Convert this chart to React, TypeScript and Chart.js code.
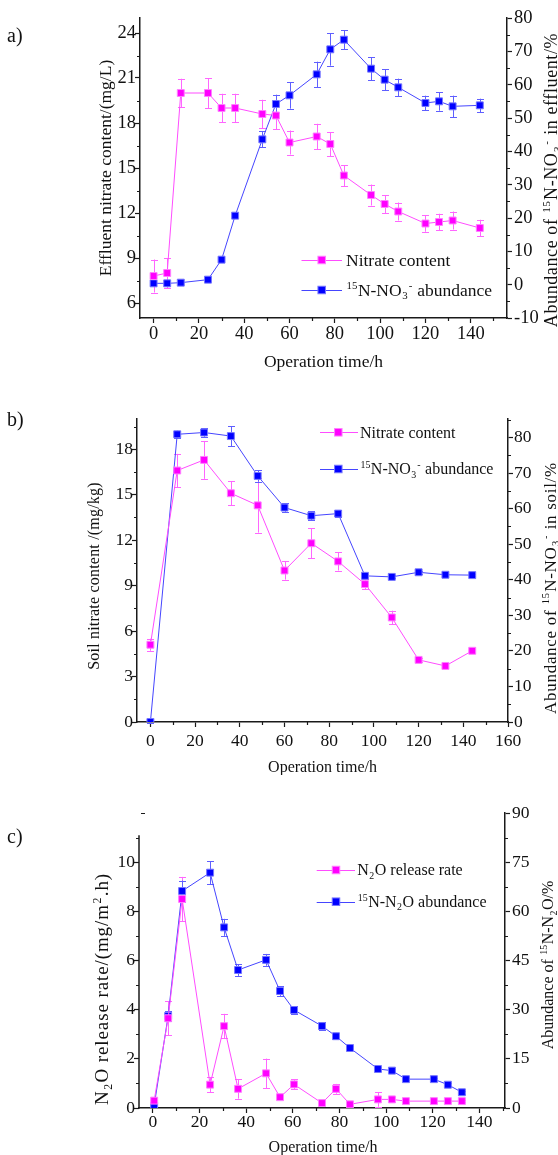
import React, { useEffect, useRef } from 'react';
import { Chart, registerables } from 'chart.js';

Chart.register(...registerables);

const FONT = '"Liberation Serif", "Times New Roman", serif';

// ---------- Panel a: effluent ----------
const timeA = [0, 6, 12, 24, 30, 36, 48, 54, 60, 72, 78, 84, 96, 102, 108, 120, 126, 132, 144];
const nitrateA = [7.8, 8.0, 20.0, 20.0, 19.0, 19.0, 18.6, 18.5, 16.7, 17.1, 16.6, 14.5, 13.2, 12.6, 12.1, 11.3, 11.4, 11.5, 11.0];
const nitrateErrA = [1.1, 1.0, 0.95, 1.0, 0.95, 0.95, 0.95, 0.9, 0.8, 0.85, 0.8, 0.7, 0.7, 0.6, 0.6, 0.55, 0.55, 0.6, 0.55];
const abundA = [0.4, 0.4, 0.6, 1.5, 7.5, 20.7, 43.6, 54.2, 56.8, 63.1, 70.6, 73.5, 64.8, 61.5, 59.2, 54.5, 55.0, 53.5, 53.8];
const abundErrA = [0, 0, 0, 0, 0, 0, 2.4, 2.8, 4.0, 3.8, 4.9, 2.9, 3.4, 3.1, 2.6, 2.2, 2.8, 3.2, 2.0];
const xTicksA = [0, 20, 40, 60, 80, 100, 120, 140];
const yTicksA = [6, 9, 12, 15, 18, 21, 24];
const y1TicksA = [-10, 0, 10, 20, 30, 40, 50, 60, 70, 80];

// ---------- Panel b: soil ----------
const timeB = [0, 12, 24, 36, 48, 60, 72, 84, 96, 108, 120, 132, 144];
const nitrateB = [5.1, 16.6, 17.3, 15.1, 14.3, 10.0, 11.8, 10.6, 9.1, 6.9, 4.1, 3.7, 4.7];
const nitrateErrB = [0.4, 1.1, 1.25, 0.8, 1.8, 0.6, 1.0, 0.6, 0.35, 0.45, 0.15, 0.15, 0.15];
const abundB = [0, 80.9, 81.4, 80.4, 69.2, 60.3, 58.0, 58.6, 41.1, 40.8, 42.1, 41.4, 41.3];
const abundErrB = [0.3, 1.0, 1.2, 2.8, 1.6, 1.2, 1.3, 1.0, 0.4, 0.4, 0.4, 0.3, 0.3];
const xTicksB = [0, 20, 40, 60, 80, 100, 120, 140, 160];
const yTicksB = [0, 3, 6, 9, 12, 15, 18];
const y1TicksB = [0, 10, 20, 30, 40, 50, 60, 70, 80];

// ---------- Panel c: N2O ----------
const timeC = [0.5, 6.5, 12.5, 24.5, 30.5, 36.5, 48.5, 54.5, 60.5, 72.5, 78.5, 84.5, 96.5, 102.5, 108.5, 120.5, 126.5, 132.5];
const n2oC = [0.3, 3.65, 8.5, 0.95, 3.33, 0.78, 1.41, 0.44, 0.96, 0.2, 0.78, 0.15, 0.35, 0.35, 0.28, 0.28, 0.28, 0.28];
const n2oErrC = [0.1, 0.7, 0.9, 0.3, 0.5, 0.4, 0.6, 0.08, 0.2, 0.05, 0.2, 0.05, 0.3, 0.1, 0.05, 0.05, 0.05, 0.05];
const abundC = [0.7, 28.1, 66.2, 71.8, 55.1, 42.1, 45.2, 35.7, 29.9, 25.0, 21.9, 18.3, 11.9, 11.4, 8.8, 8.8, 7.1, 4.8];
const abundErrC = [0.3, 1.5, 3.2, 3.5, 2.6, 1.8, 1.8, 1.5, 1.2, 1.2, 1.0, 0.5, 0.5, 0.5, 0.4, 0.4, 0.4, 0.4];
const xTicksC = [0, 20, 40, 60, 80, 100, 120, 140];
const yTicksC = [0, 2, 4, 6, 8, 10];
const y1TicksC = [0, 15, 30, 45, 60, 75, 90];

// ---------- styles ----------
const MAG = '#ff00ff';
const MAG_LINE = '#ff4cff';
const MAG_ERR = '#ff66ff';
const MAG_EDGE = '#ff7fff';
const BLUE = '#0000ff';
const BLUE_LINE = '#4545ff';
const BLUE_ERR = '#5f5fff';
const BLUE_EDGE = '#7575ff';
const AXIS = '#1a1a1a';
const TEXT = '#111111';

type Seg = { t: string; s?: 'sup' | 'sub' };
type Title = { segs: Seg[]; x: number; y: number; size: number; spacing: number };

function range(a: number, b: number, step: number) {
  const out: number[] = [];
  for (let v = a; v <= b + 1e-9; v += step) out.push(Math.round(v * 1000) / 1000);
  return out;
}

function drawRich(ctx: CanvasRenderingContext2D, segs: Seg[], x: number, y: number, size: number, rotate: boolean, align: 'center' | 'left', spacing = 0) {
  ctx.save();
  ctx.translate(x, y);
  if (rotate) ctx.rotate(-Math.PI / 2);
  const small = size * 0.62;
  (ctx as any).letterSpacing = `${spacing}px`;
  const widths = segs.map((sg) => {
    ctx.font = `${sg.s ? small : size}px ${FONT}`;
    return ctx.measureText(sg.t).width + (sg.s ? size * 0.06 : 0);
  });
  const total = widths.reduce((a, b) => a + b, 0);
  let cx = align === 'center' ? -total / 2 : 0;
  ctx.textBaseline = 'alphabetic';
  ctx.textAlign = 'left';
  ctx.fillStyle = TEXT;
  const base = size * 0.34;
  segs.forEach((sg, i) => {
    ctx.font = `${sg.s ? small : size}px ${FONT}`;
    let dy = base;
    if (sg.s === 'sup') dy = base - size * 0.38;
    if (sg.s === 'sub') dy = base + size * 0.2;
    ctx.fillText(sg.t, cx + (sg.s ? size * 0.03 : 0), dy);
    cx += widths[i];
  });
  ctx.restore();
}

type LegendEntry = { segs: Seg[]; y: number };

type Panel = {
  top: number;
  height: number;
  time: number[];
  left: number[];
  leftErr: number[];
  right: number[];
  rightErr: number[];
  xMin: number;
  xMax: number;
  yMin: number;
  yMax: number;
  y1Min: number;
  y1Max: number;
  xTicks: number[];
  yTicks: number[];
  y1Ticks: number[];
  xMinor: number[];
  yMinor: number[];
  y1Minor: number[];
  padLeft: number;
  areaRight: number;
  padTop: number;
  yW: number;
  y1W: number;
  xH: number;
  tickSize: number;
  textSize: number;
  xTickPad: number;
  yTickPad: number;
  y1TickPad: number;
  leftTitle: Title;
  rightTitle: Title;
  xTitle: Title;
  label: string;
  labelPos: [number, number];
  legend: LegendEntry[];
  legendLine: [number, number];
  legendMarkX: number;
  legendTextX: number;
  leftAxisTop?: number;
};

const nitrateSegs: Seg[] = [{ t: 'Nitrate content' }];
const no3Segs: Seg[] = [{ t: '15', s: 'sup' }, { t: 'N-NO' }, { t: '3', s: 'sub' }, { t: '-', s: 'sup' }, { t: ' abundance' }];
const opSegs: Seg[] = [{ t: 'Operation time/h' }];

const panels: Panel[] = [
  {
    top: 0, height: 385,
    time: timeA, left: nitrateA, leftErr: nitrateErrA, right: abundA, rightErr: abundErrA,
    xMin: -6, xMax: 156, yMin: 5, yMax: 25, y1Min: -10, y1Max: 80,
    xTicks: xTicksA, yTicks: yTicksA, y1Ticks: y1TicksA,
    xMinor: range(10, 150, 20), yMinor: range(7.5, 22.5, 3), y1Minor: range(-5, 75, 10),
    padLeft: 100, areaRight: 507, padTop: 18, yW: 40, y1W: 51, xH: 67,
    tickSize: 18.5, textSize: 17.5, xTickPad: 0, yTickPad: -1, y1TickPad: 2,
    leftTitle: { segs: [{ t: 'Effluent nitrate content/(mg/L)' }], x: 105.5, y: 168, size: 17.5, spacing: 0 },
    rightTitle: {
      segs: [{ t: 'Abundance of ' }, { t: '15', s: 'sup' }, { t: 'N-NO' }, { t: '3', s: 'sub' }, { t: '-', s: 'sup' }, { t: ' in effluent/%' }],
      x: 551, y: 180, size: 18, spacing: 0.6,
    },
    xTitle: { segs: opSegs, x: 323.5, y: 361.5, size: 17.5, spacing: 0 },
    label: 'a)', labelPos: [7, 37],
    legend: [{ segs: nitrateSegs, y: 260 }, { segs: no3Segs, y: 290 }],
    legendLine: [301.5, 342], legendMarkX: 321.7, legendTextX: 346,
  },
  {
    top: 385, height: 390,
    time: timeB, left: nitrateB, leftErr: nitrateErrB, right: abundB, rightErr: abundErrB,
    xMin: -6, xMax: 160, yMin: 0, yMax: 20, y1Min: 0, y1Max: 85.2,
    xTicks: xTicksB, yTicks: yTicksB, y1Ticks: y1TicksB,
    xMinor: range(10, 150, 20), yMinor: range(1.5, 19.5, 3), y1Minor: range(5, 85, 10),
    padLeft: 97, areaRight: 508, padTop: 34, yW: 40, y1W: 50, xH: 53,
    tickSize: 17.5, textSize: 16, xTickPad: 4, yTickPad: -1, y1TickPad: 1,
    leftTitle: { segs: [{ t: 'Soil nitrate content /(mg/kg)' }], x: 93.5, y: 191, size: 16, spacing: 0.2 },
    rightTitle: {
      segs: [{ t: 'Abundance of ' }, { t: '15', s: 'sup' }, { t: 'N-NO' }, { t: '3', s: 'sub' }, { t: '-', s: 'sup' }, { t: ' in soil/%' }],
      x: 550, y: 203, size: 17, spacing: 0.7,
    },
    xTitle: { segs: opSegs, x: 322.5, y: 381.5, size: 16, spacing: 0 },
    label: 'b)', labelPos: [7, 36],
    legend: [{ segs: nitrateSegs, y: 47.3 }, { segs: no3Segs, y: 84 }],
    legendLine: [320, 358], legendMarkX: 338.3, legendTextX: 360,
  },
  {
    top: 775, height: 380,
    time: timeC, left: n2oC, leftErr: n2oErrC, right: abundC, rightErr: abundErrC,
    xMin: -6, xMax: 151, yMin: 0, yMax: 12, y1Min: 0, y1Max: 90,
    xTicks: xTicksC, yTicks: yTicksC, y1Ticks: y1TicksC,
    xMinor: range(10, 150, 20), yMinor: range(1, 11, 2), y1Minor: range(7.5, 82.5, 15),
    padLeft: 99, areaRight: 505, padTop: 38, yW: 40, y1W: 52, xH: 47,
    tickSize: 17.5, textSize: 16, xTickPad: -1, yTickPad: -1, y1TickPad: 2,
    leftTitle: {
      segs: [{ t: 'N' }, { t: '2', s: 'sub' }, { t: 'O release rate/(mg/m' }, { t: '2', s: 'sup' }, { t: '.h)' }],
      x: 101.7, y: 214, size: 19, spacing: 0.9,
    },
    rightTitle: {
      segs: [{ t: 'Abundance of ' }, { t: '15', s: 'sup' }, { t: 'N-N' }, { t: '2', s: 'sub' }, { t: 'O/%' }],
      x: 548, y: 190, size: 16, spacing: 0,
    },
    xTitle: { segs: opSegs, x: 323, y: 371.5, size: 16, spacing: 0 },
    label: 'c)', labelPos: [7, 63],
    legend: [
      { segs: [{ t: 'N' }, { t: '2', s: 'sub' }, { t: 'O release rate' }], y: 95 },
      { segs: [{ t: '15', s: 'sup' }, { t: 'N-N' }, { t: '2', s: 'sub' }, { t: 'O abundance' }], y: 126.7 },
    ],
    legendLine: [316.7, 355], legendMarkX: 336, legendTextX: 357.3,
    leftAxisTop: 11.1,
  },
];

function makePlugin(p: Panel) {
  return {
    id: 'panelDecor',
    beforeDatasetsDraw(chart: any) {
      const ctx: CanvasRenderingContext2D = chart.ctx;
      [p.leftErr, p.rightErr].forEach((errs, di) => {
        const meta = chart.getDatasetMeta(di);
        const ys = chart.scales[meta.yAxisID];
        const vals = di === 0 ? p.left : p.right;
        ctx.save();
        ctx.strokeStyle = di === 0 ? MAG_ERR : BLUE_ERR;
        ctx.lineWidth = 1;
        meta.data.forEach((el: any, i: number) => {
          const e = errs[i];
          if (!e) return;
          const x = Math.round(el.x) + 0.5;
          const y1 = ys.getPixelForValue(vals[i] + e);
          const y2 = ys.getPixelForValue(vals[i] - e);
          ctx.beginPath();
          ctx.moveTo(x, y1);
          ctx.lineTo(x, y2);
          ctx.moveTo(x - 3.5, Math.round(y1) + 0.5);
          ctx.lineTo(x + 3.5, Math.round(y1) + 0.5);
          ctx.moveTo(x - 3.5, Math.round(y2) + 0.5);
          ctx.lineTo(x + 3.5, Math.round(y2) + 0.5);
          ctx.stroke();
        });
        ctx.restore();
      });
    },
    afterDraw(chart: any) {
      const ctx: CanvasRenderingContext2D = chart.ctx;
      const area = chart.chartArea;
      const sx = chart.scales.x;
      const sy = chart.scales.y;
      const sy1 = chart.scales.y1;
      ctx.save();
      ctx.strokeStyle = AXIS;
      ctx.lineWidth = 1.2;
      ctx.beginPath();
      p.xMinor.forEach((v) => {
        const px = Math.round(sx.getPixelForValue(v)) + 0.5;
        ctx.moveTo(px, area.bottom);
        ctx.lineTo(px, area.bottom + 3);
      });
      p.yMinor.forEach((v) => {
        const py = Math.round(sy.getPixelForValue(v)) + 0.5;
        ctx.moveTo(area.left, py);
        ctx.lineTo(area.left - 3, py);
      });
      p.y1Minor.forEach((v) => {
        const py = Math.round(sy1.getPixelForValue(v)) + 0.5;
        ctx.moveTo(area.right, py);
        ctx.lineTo(area.right + 3, py);
      });
      ctx.stroke();
      if (p.leftAxisTop !== undefined) {
        ctx.lineWidth = 1.5;
        ctx.beginPath();
        const lx = area.left;
        ctx.moveTo(lx, sy.getPixelForValue(p.leftAxisTop));
        ctx.lineTo(lx, area.bottom + 0.75);
        ctx.stroke();
        ctx.lineWidth = 1;
        ctx.beginPath();
        const ty = Math.round(sy.getPixelForValue(p.yMax)) + 0.5;
        ctx.moveTo(lx + 2, ty);
        ctx.lineTo(lx + 6, ty);
        ctx.stroke();
      }
      ctx.restore();

      // titles
      [p.leftTitle, p.rightTitle].forEach((t) => drawRich(ctx, t.segs, t.x, t.y, t.size, true, 'center', t.spacing));
      drawRich(ctx, p.xTitle.segs, p.xTitle.x, p.xTitle.y, p.xTitle.size, false, 'center', p.xTitle.spacing);

      // panel label
      ctx.save();
      ctx.font = `20px ${FONT}`;
      ctx.fillStyle = TEXT;
      ctx.textBaseline = 'middle';
      ctx.textAlign = 'left';
      ctx.fillText(p.label, p.labelPos[0], p.labelPos[1]);
      ctx.restore();

      // legend
      p.legend.forEach((entry, i) => {
        const ds = chart.data.datasets[i];
        ctx.save();
        ctx.strokeStyle = ds.borderColor;
        ctx.lineWidth = 1;
        ctx.beginPath();
        const ly = Math.round(entry.y) + 0.5;
        ctx.moveTo(p.legendLine[0], ly);
        ctx.lineTo(p.legendLine[1], ly);
        ctx.stroke();
        const s = 7.5;
        ctx.fillStyle = ds.pointBackgroundColor;
        ctx.strokeStyle = ds.pointBorderColor;
        ctx.fillRect(p.legendMarkX - s / 2, entry.y - s / 2, s, s);
        ctx.strokeRect(p.legendMarkX - s / 2, entry.y - s / 2, s, s);
        ctx.restore();
        drawRich(ctx, entry.segs, p.legendTextX, entry.y, p.textSize, false, 'left');
      });
    },
  };
}

function buildChart(canvas: HTMLCanvasElement, p: Panel) {
  const tickFont = { family: FONT, size: p.tickSize };
  const grid = { drawOnChartArea: false, drawTicks: true, tickLength: 5, tickColor: AXIS, tickWidth: 1.2, color: AXIS };
  const border = { display: true, color: AXIS, width: 1.5 };
  const fmt = (v: any) => String(v);
  return new Chart(canvas, {
    type: 'line',
    data: {
      datasets: [
        {
          label: 'left',
          data: p.time.map((t, i) => ({ x: t, y: p.left[i] })),
          yAxisID: 'y',
          borderColor: MAG_LINE,
          borderWidth: 1,
          pointStyle: 'rect',
          pointRadius: 4.9,
          pointBackgroundColor: MAG,
          pointBorderColor: MAG_EDGE,
          pointBorderWidth: 1,
          tension: 0,
          fill: false,
        },
        {
          label: 'right',
          data: p.time.map((t, i) => ({ x: t, y: p.right[i] })),
          yAxisID: 'y1',
          borderColor: BLUE_LINE,
          borderWidth: 1,
          pointStyle: 'rect',
          pointRadius: 4.9,
          pointBackgroundColor: BLUE,
          pointBorderColor: BLUE_EDGE,
          pointBorderWidth: 1,
          tension: 0,
          fill: false,
        },
      ],
    } as any,
    options: {
      animation: false,
      responsive: false,
      maintainAspectRatio: false,
      layout: { padding: { left: p.padLeft, right: Math.max(0, 558 - p.areaRight - p.y1W), top: p.padTop, bottom: 0 } },
      plugins: { legend: { display: false }, tooltip: { enabled: false } },
      scales: {
        x: {
          type: 'linear',
          min: p.xMin,
          max: p.xMax,
          afterBuildTicks: (s: any) => { s.ticks = p.xTicks.map((v) => ({ value: v })); },
          afterFit: (s: any) => { s.height = p.xH; s.paddingLeft = 0; s.paddingRight = 0; },
          grid,
          border,
          ticks: { font: tickFont, color: TEXT, padding: p.xTickPad, callback: fmt, maxRotation: 0, autoSkip: false },
        },
        y: {
          type: 'linear',
          position: 'left',
          min: p.yMin,
          max: p.yMax,
          afterBuildTicks: (s: any) => { s.ticks = p.yTicks.map((v) => ({ value: v })); },
          afterFit: (s: any) => { s.width = p.yW; s.paddingTop = 0; s.paddingBottom = 0; },
          grid,
          border: p.leftAxisTop !== undefined ? { display: false } : border,
          ticks: { font: tickFont, color: TEXT, padding: p.yTickPad, callback: fmt, autoSkip: false },
        },
        y1: {
          type: 'linear',
          position: 'right',
          min: p.y1Min,
          max: p.y1Max,
          afterBuildTicks: (s: any) => { s.ticks = p.y1Ticks.map((v) => ({ value: v })); },
          afterFit: (s: any) => { s.width = p.y1W; s.paddingTop = 0; s.paddingBottom = 0; },
          grid,
          border,
          ticks: { font: tickFont, color: TEXT, padding: p.y1TickPad, callback: fmt, autoSkip: false },
        },
      },
    } as any,
    plugins: [makePlugin(p)],
  });
}

function PanelCanvas({ p }: { p: Panel }) {
  const ref = useRef<HTMLCanvasElement | null>(null);
  useEffect(() => {
    if (!ref.current) return;
    const chart = buildChart(ref.current, p);
    return () => chart.destroy();
  }, [p]);
  return (
    <canvas
      ref={ref}
      width={558}
      height={p.height}
      style={{ position: 'absolute', left: 0, top: p.top, width: 558, height: p.height, display: 'block' }}
    />
  );
}

export default function App() {
  return (
    <div style={{ position: 'absolute', left: 0, top: 0, width: 558, height: 1155, background: '#ffffff', overflow: 'hidden' }}>
      {panels.map((p, i) => (
        <PanelCanvas key={i} p={p} />
      ))}
    </div>
  );
}
